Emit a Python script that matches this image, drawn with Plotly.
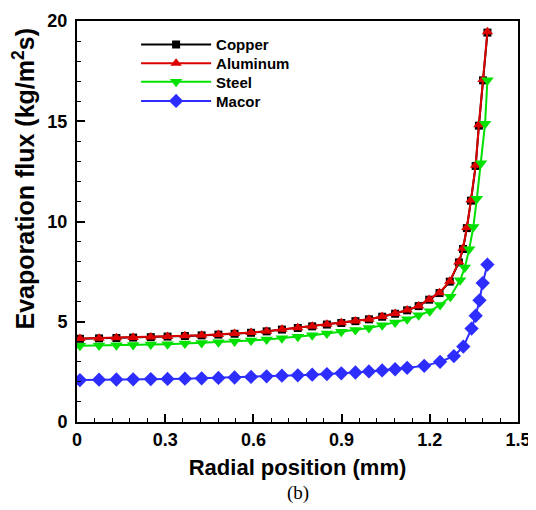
import plotly.graph_objects as go

# ---- data ----
x_cu = [0.010, 0.075, 0.134, 0.191, 0.251, 0.308, 0.367, 0.424, 0.481, 0.536,
        0.592, 0.645, 0.697, 0.751, 0.800, 0.850, 0.899, 0.947, 0.993, 1.038,
        1.082, 1.123, 1.162, 1.198, 1.233, 1.268, 1.299, 1.313, 1.326, 1.340,
        1.356, 1.367, 1.381, 1.396]
copper = [4.15, 4.17, 4.19, 4.21, 4.23, 4.26, 4.29, 4.32, 4.36, 4.40,
          4.45, 4.52, 4.61, 4.69, 4.77, 4.86, 4.94, 5.03, 5.12, 5.25,
          5.40, 5.57, 5.78, 6.10, 6.43, 7.00, 7.96, 8.63, 9.67, 11.04,
          12.77, 14.78, 17.04, 19.42]
aluminum = [4.16, 4.18, 4.20, 4.22, 4.24, 4.27, 4.30, 4.33, 4.37, 4.41,
            4.46, 4.53, 4.62, 4.70, 4.78, 4.87, 4.95, 5.04, 5.13, 5.26,
            5.41, 5.58, 5.79, 6.11, 6.45, 7.02, 7.98, 8.66, 9.70, 11.07,
            12.80, 14.82, 17.08, 19.46]

x_st = [0.010, 0.075, 0.134, 0.191, 0.251, 0.308, 0.367, 0.424, 0.481, 0.536,
        0.592, 0.645, 0.697, 0.751, 0.800, 0.850, 0.899, 0.947, 0.993, 1.038,
        1.082, 1.123, 1.162, 1.200, 1.235, 1.270, 1.303, 1.319, 1.334, 1.348,
        1.360, 1.374, 1.388, 1.396]
steel = [3.80, 3.81, 3.83, 3.84, 3.86, 3.88, 3.91, 3.94, 3.98, 4.02,
         4.06, 4.12, 4.18, 4.25, 4.33, 4.41, 4.50, 4.59, 4.69, 4.82,
         4.96, 5.12, 5.32, 5.52, 5.84, 6.25, 7.07, 7.70, 8.62, 9.72,
         11.14, 12.90, 14.88, 17.04]

x_ma = [0.010, 0.075, 0.134, 0.191, 0.251, 0.308, 0.367, 0.424, 0.481, 0.536,
        0.592, 0.645, 0.697, 0.751, 0.800, 0.850, 0.899, 0.947, 0.993, 1.038,
        1.082, 1.123, 1.181, 1.235, 1.282, 1.314, 1.342, 1.356, 1.369, 1.380,
        1.396]
macor = [2.09, 2.11, 2.12, 2.13, 2.14, 2.15, 2.16, 2.18, 2.20, 2.22,
         2.25, 2.28, 2.31, 2.33, 2.36, 2.39, 2.43, 2.47, 2.52, 2.57,
         2.63, 2.70, 2.80, 3.00, 3.29, 3.76, 4.66, 5.30, 6.07, 6.93,
         7.85]

x_ticks = [0, 0.3, 0.6, 0.9, 1.2, 1.5]
x_tick_labels = ["0", "0.3", "0.6", "0.9", "1.2", "1.5"]
y_ticks = [0, 5, 10, 15, 20]
y_tick_labels = ["0", "5", "10", "15", "20"]

series = [
    ("Copper", x_cu, copper, "black", "square", 8),
    ("Aluminum", x_cu, aluminum, "rgb(220,0,0)", "triangle-up", 10),
    ("Steel", x_st, steel, "rgb(0,225,0)", "triangle-down", 11),
    ("Macor", x_ma, macor, "rgb(45,45,255)", "diamond", 11),
]
legend_ids = ["legend", "legend2", "legend3", "legend4"]
legend_rows = [0.941, 0.894, 0.848, 0.800]

bold = dict(family="Arial, Liberation Sans, sans-serif", color="black", weight="bold")

fig = go.Figure()
for (name, xs, ys, col, sym, size), lid in zip(series, legend_ids):
    fig.add_trace(go.Scatter(
        x=xs, y=ys, name=name, mode="lines+markers", legend=lid,
        line=dict(color=col, width=2),
        marker=dict(color=col, symbol=sym, size=size, line=dict(width=0)),
    ))

legend_layout = {}
for lid, ry in zip(legend_ids, legend_rows):
    legend_layout[lid] = dict(
        x=0.134, y=ry, xanchor="left", yanchor="middle",
        font=dict(size=15, **bold),
        bgcolor="rgba(0,0,0,0)", itemwidth=70,
    )

# page has an 8px body margin, so the figure is drawn 8px smaller
fig.update_layout(
    width=528, height=502,
    paper_bgcolor="white", plot_bgcolor="white",
    margin=dict(l=69, r=18, t=13, b=88, autoexpand=False),
    showlegend=True,
    **legend_layout,
    xaxis=dict(
        range=[0, 1.5], tickvals=x_ticks, ticktext=x_tick_labels,
        ticks="inside", ticklen=8, tickwidth=2, tickcolor="black",
        showline=True, linecolor="black", linewidth=2, mirror=True,
        showgrid=False, zeroline=False, automargin=False,
        tickfont=dict(size=18, **bold),
        minor=dict(dtick=0.06, ticks="inside", ticklen=4, tickwidth=1, tickcolor="black", showgrid=False),
        title=dict(text="Radial position (mm)", font=dict(size=22, **bold), standoff=11),
    ),
    yaxis=dict(
        range=[0, 20], tickvals=y_ticks, ticktext=y_tick_labels,
        ticks="inside", ticklen=8, tickwidth=2, tickcolor="black",
        showline=True, linecolor="black", linewidth=2, mirror=True,
        showgrid=False, zeroline=False, automargin=False,
        tickfont=dict(size=18, **bold), ticklabelstandoff=4,
        minor=dict(dtick=1, ticks="inside", ticklen=4, tickwidth=1, tickcolor="black", showgrid=False),
    ),
    annotations=[
        dict(
            text="Evaporation flux (kg/m<sup>2</sup>s)", xref="paper", yref="paper",
            x=-0.120, y=0.605, xanchor="center", yanchor="middle", textangle=-90,
            showarrow=False, font=dict(size=25, **bold),
        ),
        dict(
            text="(b)", xref="paper", yref="paper", x=0.5, y=-0.178,
            xanchor="center", yanchor="middle", showarrow=False,
            font=dict(family="Times New Roman, Liberation Serif, serif", size=19, color="black"),
        ),
    ],
)

fig.write_html("out.html")
